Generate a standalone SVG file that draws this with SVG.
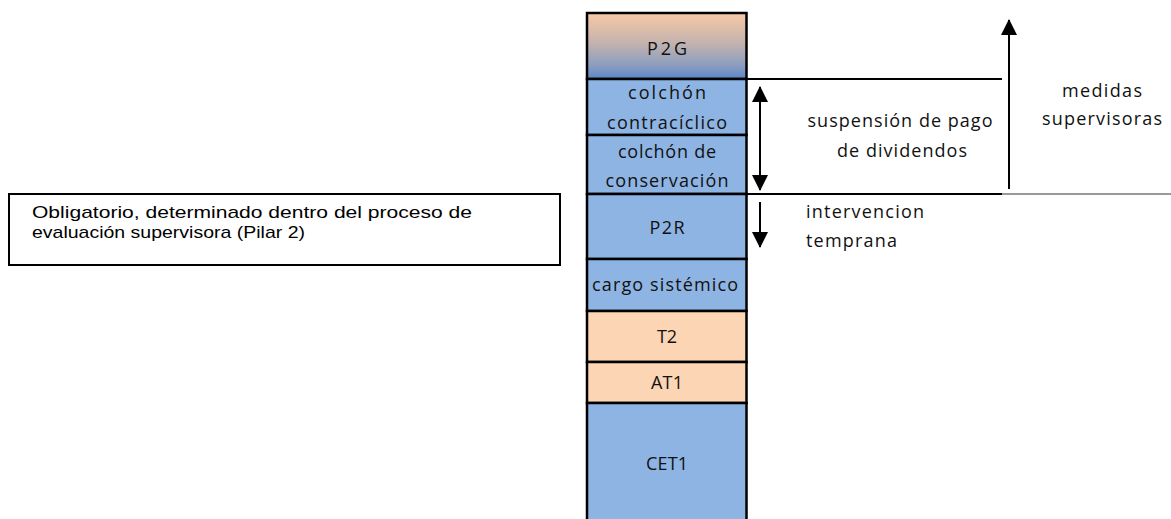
<svg xmlns="http://www.w3.org/2000/svg" width="1171" height="519" viewBox="0 0 1171 519">
<style>
.blk{fill:#8EB4E3;stroke:#000;stroke-width:2.5}
.pch{fill:#FCD5B5;stroke:#000;stroke-width:2.5}
.t{font-family:"Open Sans",Lato,sans-serif;font-size:18px;fill:#111;text-anchor:middle}
.tl{font-family:"Open Sans",Lato,sans-serif;font-size:18px;fill:#111}
.ar{font-family:"Liberation Sans",Arial,sans-serif;font-size:17px;fill:#000}
.ln{stroke:#000;stroke-width:2;fill:none}
</style>
<defs>
<linearGradient id="g" x1="0" y1="0" x2="0" y2="1">
<stop offset="0" stop-color="#F8C9A6"/>
<stop offset="0.45" stop-color="#C4B3AE"/>
<stop offset="0.8" stop-color="#8A9DC0"/>
<stop offset="1" stop-color="#5A86C6"/>
</linearGradient>
<marker id="ah" viewBox="0 0 16 16" refX="15" refY="8" markerWidth="16" markerHeight="16" markerUnits="userSpaceOnUse" orient="auto-start-reverse">
<path d="M0,0 L16,8 L0,16 z" fill="#000"/>
</marker>
</defs>
<g id="left-note">
<rect x="9" y="194" width="551" height="71" fill="#fff" stroke="#000" stroke-width="2"/>
<text class="ar" x="32" y="218" textLength="440" lengthAdjust="spacingAndGlyphs">Obligatorio, determinado dentro del proceso de</text>
<text class="ar" x="32" y="238" textLength="273" lengthAdjust="spacingAndGlyphs">evaluación supervisora (Pilar 2)</text>
</g>
<g id="P2G">
<rect x="587" y="13" width="159.5" height="66" fill="url(#g)" stroke="#000" stroke-width="2.5"/>
<text class="t" x="667" y="55" textLength="40">P2G</text>
</g>
<g id="colchon-contraciclico">
<rect class="blk" x="587" y="79" width="159.5" height="56"/>
<text class="t" x="667" y="99" textLength="78">colchón</text>
<text class="t" x="667" y="129" textLength="120">contracíclico</text>
</g>
<g id="colchon-conservacion">
<rect class="blk" x="587" y="135" width="159.5" height="59"/>
<text class="t" x="667" y="158" textLength="98">colchón de</text>
<text class="t" x="667" y="187" textLength="123">conservación</text>
</g>
<g id="P2R">
<rect class="blk" x="587" y="194" width="159.5" height="65"/>
<text class="t" x="667" y="234" textLength="35">P2R</text>
</g>
<g id="cargo-sistemico">
<rect class="blk" x="587" y="259" width="159.5" height="52"/>
<text class="t" x="665" y="291" textLength="146">cargo sistémico</text>
</g>
<g id="T2">
<rect class="pch" x="587" y="311" width="159.5" height="51"/>
<text class="t" x="667" y="343" textLength="20">T2</text>
</g>
<g id="AT1">
<rect class="pch" x="587" y="362" width="159.5" height="41"/>
<text class="t" x="667" y="389" textLength="32">AT1</text>
</g>
<g id="CET1">
<rect class="blk" x="587" y="403" width="159.5" height="120"/>
<text class="t" x="667" y="470" textLength="42">CET1</text>
</g>
<g id="connectors">
<line class="ln" x1="746" y1="79" x2="1002" y2="79"/>
<line class="ln" x1="746" y1="194" x2="1002" y2="194"/>
<line x1="1002" y1="194" x2="1171" y2="194" stroke="#999" stroke-width="2"/>
<line class="ln" x1="1009" y1="189" x2="1009" y2="20" marker-end="url(#ah)"/>
<line class="ln" x1="760" y1="87" x2="760" y2="190" marker-start="url(#ah)" marker-end="url(#ah)"/>
<line class="ln" x1="760" y1="202" x2="760" y2="247" marker-end="url(#ah)"/>
</g>
<g id="labels">
<text class="t" x="900" y="127" textLength="185">suspensión de pago</text>
<text class="t" x="902" y="157" textLength="130">de dividendos</text>
<text class="t" x="1102" y="97" textLength="80">medidas</text>
<text class="t" x="1102" y="125" textLength="120">supervisoras</text>
<text class="tl" x="806" y="218" textLength="118">intervencion</text>
<text class="tl" x="806" y="247" textLength="91">temprana</text>
</g>
</svg>
